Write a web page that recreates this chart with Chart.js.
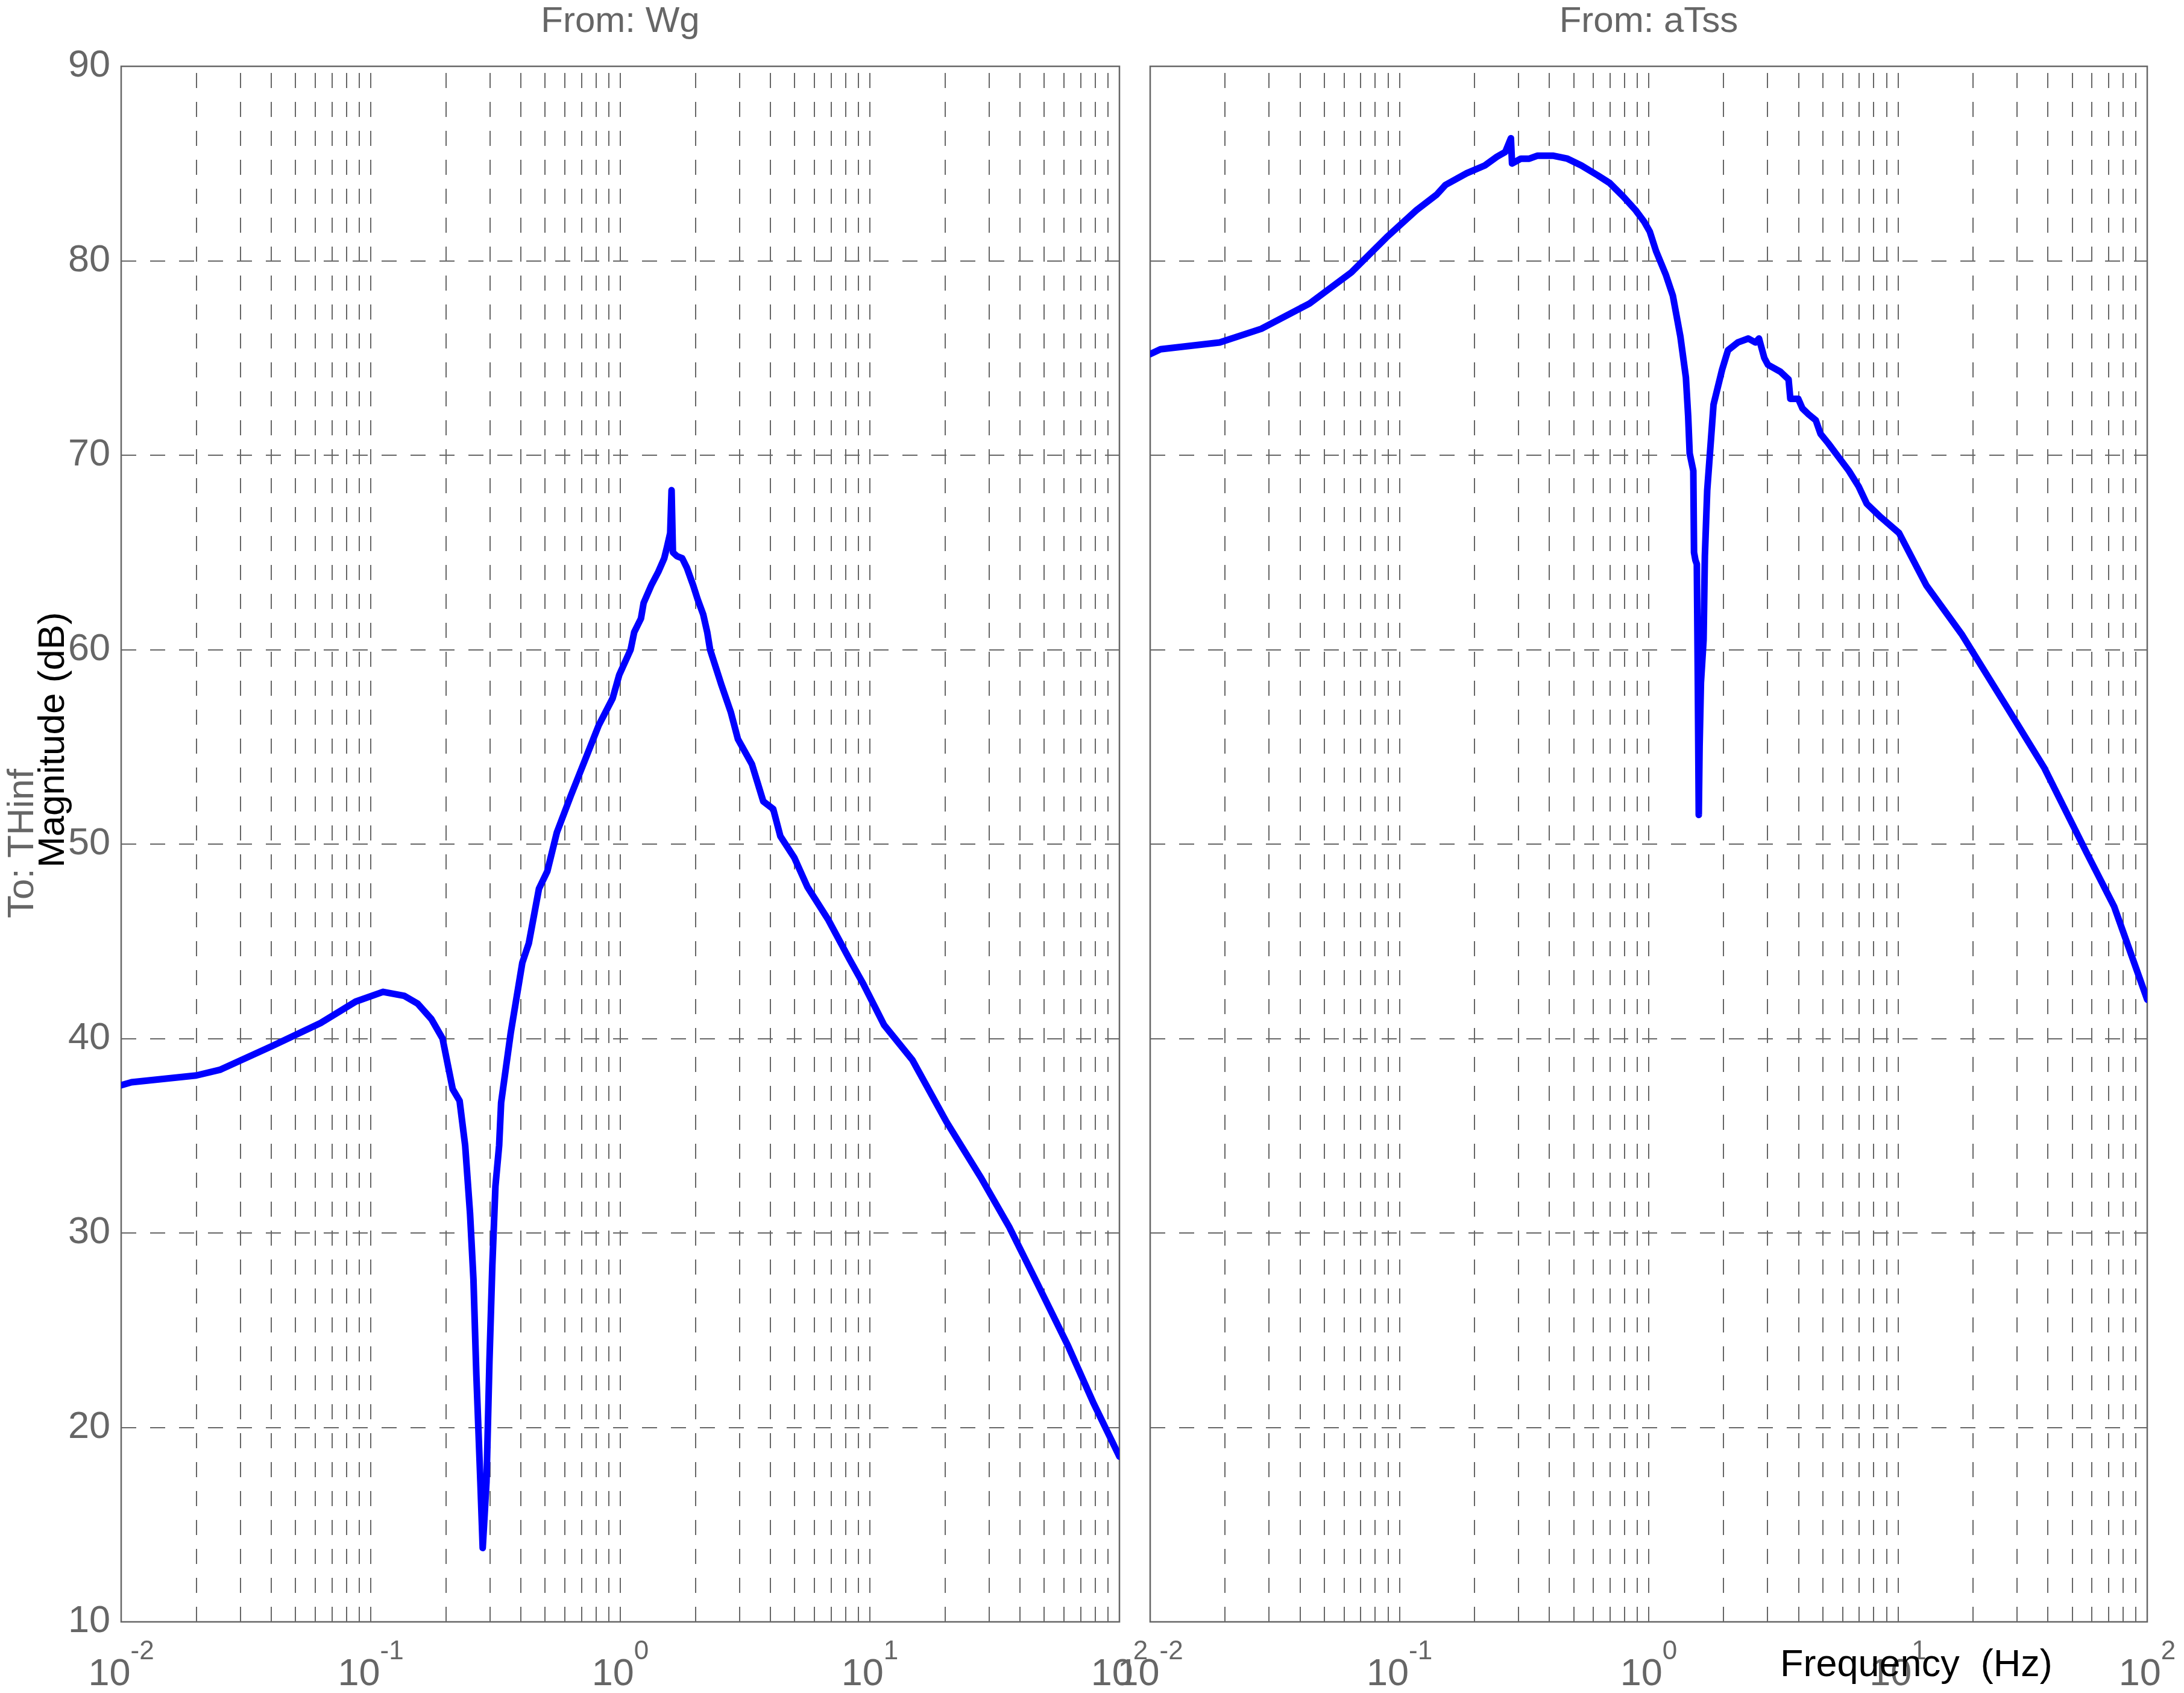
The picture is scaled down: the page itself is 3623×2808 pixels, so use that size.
<!DOCTYPE html>
<html>
<head>
<meta charset="utf-8">
<title>Bode magnitude</title>
<script src="https://cdn.jsdelivr.net/npm/chart.js@4.4.0/dist/chart.umd.min.js"></script>
<style>
    html, body { margin: 0; padding: 0; background: #fff; }
    #wrap { position: relative; width: 3623px; height: 2808px; }
    #wrap canvas { position: absolute; left: 0; top: 0; }
</style>
</head>
<body>
<div id="wrap">
    <canvas id="wg-chart" width="3623" height="2808"></canvas>
    <canvas id="tss-chart" width="3623" height="2808"></canvas>
</div>
<script>
    "use strict";

    // From: Wg  ->  To: THinf
    var wgFreq = [0.01, 0.011, 0.02, 0.025, 0.04, 0.063, 0.087, 0.112, 0.136, 0.154, 0.175, 0.194, 0.213, 0.227,
        0.239, 0.25, 0.258, 0.265, 0.275, 0.281, 0.291, 0.299, 0.307, 0.316, 0.327, 0.333, 0.364, 0.405, 0.43,
        0.472, 0.51, 0.557, 0.634, 0.721, 0.819, 0.932, 0.99, 1.1, 1.137, 1.21, 1.24, 1.33, 1.42, 1.5, 1.54,
        1.585, 1.605, 1.625, 1.69, 1.77, 1.85, 1.96, 2.04, 2.15, 2.23, 2.29, 2.54, 2.77, 2.96, 3.37, 3.74, 4.1,
        4.38, 4.98, 5.62, 6.82, 8.27, 9.42, 11.4, 14.8, 20.3, 28.0, 36.2, 46.9, 62.2, 78.4, 100];
    var wgMag = [37.6, 37.75, 38.1, 38.4, 39.6, 40.8, 41.9, 42.4, 42.2, 41.8, 41.0, 40.0, 37.4, 36.8,
        34.5, 31.0, 27.6, 22.7, 17.2, 13.8, 17.2, 23.4, 28.3, 32.4, 34.5, 36.7, 40.3, 43.9, 44.9,
        47.7, 48.6, 50.6, 52.5, 54.3, 56.1, 57.5, 58.7, 60.0, 60.9, 61.6, 62.4, 63.3, 64.0, 64.7, 65.3,
        66.0, 68.2, 65.0, 64.8, 64.7, 64.2, 63.3, 62.6, 61.8, 60.9, 60.0, 58.2, 56.8, 55.4, 54.1, 52.2, 51.8,
        50.4, 49.3, 47.8, 46.1, 44.1, 42.8, 40.7, 38.9, 35.7, 32.8, 30.3, 27.4, 24.2, 21.3, 18.5];

    // From: aTss  ->  To: THinf
    var tssFreq = [0.01, 0.011, 0.019, 0.0279, 0.0436, 0.0641, 0.0887, 0.117, 0.141, 0.153, 0.186, 0.22, 0.246,
        0.266, 0.28, 0.283, 0.307, 0.332, 0.357, 0.415, 0.472, 0.537, 0.623, 0.697, 0.791, 0.886, 0.96, 1.01,
        1.07, 1.17, 1.25, 1.34, 1.41, 1.44, 1.46, 1.51, 1.52, 1.54, 1.56, 1.575, 1.588, 1.6, 1.62, 1.66, 1.68,
        1.717, 1.82, 1.97, 2.08, 2.28, 2.51, 2.68, 2.77, 2.91, 3.01, 3.37, 3.64, 3.7, 3.98, 4.14, 4.38, 4.68,
        4.89, 5.26, 5.78, 6.35, 6.95, 7.5, 8.55, 10.1, 13.0, 18.0, 28.1, 38.7, 56.9, 73.6, 100];
    var tssMag = [75.2, 75.45, 75.8, 76.5, 77.8, 79.4, 81.2, 82.6, 83.4, 83.9, 84.5, 84.9, 85.35,
        85.6, 86.3, 85.0, 85.25, 85.25, 85.4, 85.4, 85.25, 84.9, 84.4, 84.0, 83.3, 82.6, 82.0, 81.5,
        80.5, 79.3, 78.2, 76.1, 74.0, 72.0, 70.1, 69.2, 65.0, 64.6, 64.4, 58.0, 51.5, 55.0, 58.3, 60.5, 64.8,
        68.2, 72.6, 74.4, 75.4, 75.8, 76.0, 75.8, 76.0, 75.0, 74.65, 74.3, 73.9, 72.9, 72.9, 72.4, 72.1, 71.8,
        71.1, 70.6, 69.9, 69.2, 68.4, 67.5, 66.8, 66.0, 63.3, 60.8, 56.8, 53.9, 49.6, 46.8, 42.0];

    var magTicks = [10, 20, 30, 40, 50, 60, 70, 80, 90];
    var decades = [-2, -1, 0, 1, 2];
    var minorSteps = [1, 2, 3, 4, 5, 6, 7, 8, 9];
    var panelTitles = ['From: Wg', 'From: aTss'];
    var outputName = 'To: THinf';
    var yTitle = 'Magnitude (dB)';
    var xTitle = 'Frequency  (Hz)';

    var GRAY = '#666666';
    var FONT = '"Liberation Sans", Arial, Helvetica, sans-serif';

    // grid positions of a log axis: 1..9 x 10^k, then the last decade
    var freqGrid = [];
    decades.forEach(function (d, i) {
        if (i === decades.length - 1) {
            freqGrid.push(Math.pow(10, d));
            return;
        }
        minorSteps.forEach(function (m) {
            freqGrid.push(m * Math.pow(10, d));
        });
    });

    function toPoints(xs, ys) {
        return xs.map(function (x, i) {
            return {x: x, y: ys[i]};
        });
    }

    // box, labels with superscript exponents, rotated axis labels
    var bodeFrame = {
        id: 'bodeFrame',
        beforeDatasetsDraw: function (chart) {
            var a = chart.chartArea, ctx = chart.ctx;
            ctx.save();
            ctx.strokeStyle = GRAY;
            ctx.lineWidth = 2.5;
            ctx.strokeRect(a.left, a.top, a.right - a.left, a.bottom - a.top);
            ctx.restore();
        },
        afterDraw: function (chart, args, opts) {
            var a = chart.chartArea, ctx = chart.ctx;
            var xScale = chart.scales.x;
            ctx.save();
            ctx.fillStyle = GRAY;
            ctx.textBaseline = 'alphabetic';

            // panel title
            ctx.font = '60px ' + FONT;
            ctx.textAlign = 'center';
            ctx.fillText(opts.title, (a.left + a.right) / 2, a.top - 57);

            // 10^k tick labels
            ctx.textAlign = 'left';
            decades.forEach(function (d) {
                var px = xScale.getPixelForValue(Math.pow(10, d));
                var exp = String(d);
                ctx.font = '63px ' + FONT;
                var wb = ctx.measureText('10').width;
                ctx.font = '44px ' + FONT;
                var we = ctx.measureText(exp).width;
                var x0 = px - (wb + we) / 2;
                ctx.font = '63px ' + FONT;
                ctx.fillText('10', x0, a.bottom + 105);
                ctx.font = '44px ' + FONT;
                ctx.fillText(exp, x0 + wb, a.bottom + 62);
            });

            if (opts.yLabels) {
                ctx.textAlign = 'center';
                ctx.font = '62px ' + FONT;
                ctx.save();
                ctx.translate(a.left - 146, a.top + (a.bottom - a.top) * 0.4996);
                ctx.rotate(-Math.PI / 2);
                ctx.fillStyle = GRAY;
                ctx.fillText(outputName, 0, 0);
                ctx.restore();

                ctx.save();
                ctx.translate(a.left - 95, a.top + (a.bottom - a.top) * 0.433);
                ctx.rotate(-Math.PI / 2);
                ctx.fillStyle = '#000000';
                ctx.fillText(yTitle, 0, 0);
                ctx.restore();
            }

            if (opts.xLabel) {
                ctx.textAlign = 'left';
                ctx.font = '63px ' + FONT;
                ctx.fillStyle = '#000000';
                ctx.fillText(xTitle, a.left + 1045, a.bottom + 90);
            }
            ctx.restore();
        }
    };

    function makePanel(canvasId, freq, mag, title, padding, showY, showXLabel) {
        var ctx = document.getElementById(canvasId).getContext('2d');
        return new Chart(ctx, {
            type: 'line',
            data: {
                datasets: [{
                    data: toPoints(freq, mag),
                    borderColor: '#0000ff',
                    borderWidth: 11,
                    borderJoinStyle: 'round',
                    borderCapStyle: 'round',
                    pointRadius: 0,
                    fill: false,
                    tension: 0
                }]
            },
            options: {
                responsive: false,
                animation: false,
                devicePixelRatio: 1,
                layout: {padding: padding},
                plugins: {
                    legend: {display: false},
                    tooltip: {enabled: false},
                    bodeFrame: {title: title, yLabels: showY, xLabel: showXLabel}
                },
                scales: {
                    x: {
                        type: 'logarithmic',
                        min: 0.01,
                        max: 100,
                        afterBuildTicks: function (scale) {
                            scale.ticks = freqGrid.map(function (v) {
                                return {value: v};
                            });
                        },
                        afterFit: function (scale) {
                            scale.height = 0;
                        },
                        ticks: {display: false},
                        grid: {color: GRAY, lineWidth: 2, drawTicks: false},
                        border: {display: false, dash: [25, 23], dashOffset: 37}
                    },
                    y: {
                        type: 'linear',
                        min: 10,
                        max: 90,
                        afterBuildTicks: function (scale) {
                            scale.ticks = magTicks.map(function (v) {
                                return {value: v};
                            });
                        },
                        afterFit: function (scale) {
                            scale.width = showY ? 120 : 0;
                        },
                        ticks: {
                            display: showY,
                            color: GRAY,
                            padding: 18,
                            font: {family: FONT, size: 63, lineHeight: 1}
                        },
                        grid: {color: GRAY, lineWidth: 2, drawTicks: false},
                        border: {display: false, dash: [25, 23], dashOffset: 0}
                    }
                }
            },
            plugins: [bodeFrame]
        });
    }

    makePanel('wg-chart', wgFreq, wgMag, panelTitles[0],
        {left: 81, right: 1766, top: 110, bottom: 118}, true, false);
    makePanel('tss-chart', tssFreq, tssMag, panelTitles[1],
        {left: 1908, right: 61, top: 110, bottom: 118}, false, true);
</script>
</body>
</html>
